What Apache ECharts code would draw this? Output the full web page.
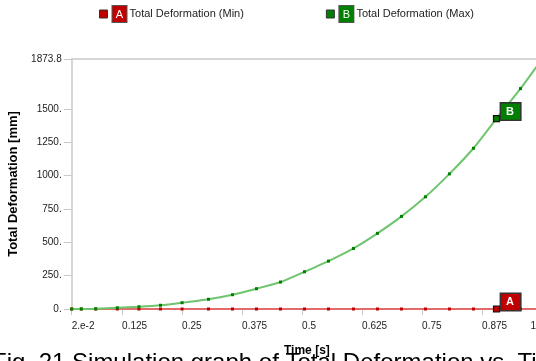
<!DOCTYPE html>
<html><head><meta charset="utf-8">
<script src="https://cdn.jsdelivr.net/npm/echarts@6/dist/echarts.min.js"></script>
<style>html,body{margin:0;padding:0;background:#fff;overflow:hidden}#c{width:536px;height:361px}</style>
</head><body><div id="c"></div>
<script>
// ---- data ----
const times   = [0.02, 0.04, 0.07, 0.115, 0.16, 0.205, 0.25, 0.305, 0.355, 0.405, 0.455, 0.505, 0.555, 0.607, 0.657, 0.707, 0.757, 0.807, 0.857, 0.905, 0.955, 1.0];
const maxVals = [0, 0.3, 1.5, 9, 17, 28, 47, 73, 107, 152, 202, 279, 359, 454, 567, 694, 841, 1013, 1205, 1427, 1652, 1873.8];
const minVals = [0, 0, 0, 0, 0, 0, 0, 0, 0, 0, 0, 0, 0, 0, 0, 0, 0, 0, 0, 0, 0, 0];
const seriesNames = ['Total Deformation (Min)', 'Total Deformation (Max)'];
const seriesTags  = ['A', 'B'];
const xTicks = [0.02, 0.125, 0.25, 0.375, 0.5, 0.625, 0.75, 0.875, 1.0];
const yTicks = [0, 250, 500, 750, 1000, 1250, 1500, 1873.8];
const probeIndex = 19;
const captionText = 'Fig. 21 Simulation graph of Total Deformation vs. Time';

const FONT = '"Liberation Sans", Arial, sans-serif';
const colors = {
  minLine: '#e36a6a', minMark: '#c00000',
  maxLine: '#6fc46f', maxMark: '#008000'
};

function buildData(vals, markColor, tag) {
  return times.map((t, i) => {
    const item = { value: [t, vals[i]] };
    if (i === probeIndex) {
      item.symbolSize = 6;
      item.itemStyle = { color: markColor, borderColor: '#111', borderWidth: 1.2 };
      item.label = {
        show: true, formatter: tag, position: 'right', distance: 1, offset: [0, -7],
        color: '#fff', fontFamily: FONT, fontSize: 11, fontWeight: 'bold',
        backgroundColor: markColor, borderColor: '#333', borderWidth: 1.5,
        padding: [3, 5, 2, 5], width: 9, align: 'left'
      };
    }
    return item;
  });
}

const chart = echarts.init(document.getElementById('c'), null, { renderer: 'canvas' });
chart.setOption({
  animation: false,
  textStyle: { fontFamily: FONT },
  grid: { left: 71.7, top: 59, width: 470.4, height: 250, outerBoundsMode: 'none', containLabel: false },
  legend: {
    left: 94, top: 0, itemGap: 82, itemWidth: 8, itemHeight: 8, icon: 'rect',
    data: [
      { name: seriesNames[0], itemStyle: { color: colors.minMark, borderColor: '#333', borderWidth: 1 } },
      { name: seriesNames[1], itemStyle: { color: colors.maxMark, borderColor: '#333', borderWidth: 1 } }
    ],
    formatter: function (name) {
      const i = seriesNames.indexOf(name);
      return (i === 0 ? '{a|' : '{b|') + seriesTags[i] + '} ' + name;
    },
    textStyle: {
      fontFamily: FONT, fontSize: 11, color: '#222',
      rich: {
        a: { backgroundColor: colors.minMark, color: '#fff', borderColor: '#555', borderWidth: 1, padding: [3, 3, 2, 3], width: 8, align: 'center', fontSize: 11 },
        b: { backgroundColor: colors.maxMark, color: '#fff', borderColor: '#555', borderWidth: 1, padding: [3, 3, 2, 3], width: 8, align: 'center', fontSize: 11 }
      }
    }
  },
  xAxis: [{
    type: 'value', min: 0.02, max: 1.0,
    name: 'Time [s]', nameLocation: 'middle', nameGap: 36,
    nameTextStyle: { fontFamily: FONT, fontSize: 12, fontWeight: 'bold', color: '#000' },
    axisLine: { show: true, lineStyle: { color: '#c8c8c8', width: 1 } },
    axisTick: { show: true, length: 6, customValues: xTicks, lineStyle: { color: '#c8c8c8' } },
    axisLabel: {
      customValues: xTicks.slice(0, -1), margin: 12, align: 'left',
      fontFamily: FONT, fontSize: 10, color: '#222',
      formatter: v => (Math.abs(v - 0.02) < 1e-9 ? '2.e-2' : String(v))
    },
    splitLine: { show: false }
  }, {
    type: 'value', min: 0.02, max: 1.0, position: 'bottom',
    axisLine: { show: false }, axisTick: { show: false }, splitLine: { show: false },
    axisLabel: {
      customValues: [xTicks[xTicks.length - 1]], margin: 12, align: 'right', padding: [0, 6, 0, 0],
      fontFamily: FONT, fontSize: 10, color: '#222', formatter: v => String(v)
    }
  }, {
    type: 'value', min: 0.02, max: 1.0, position: 'top',
    axisLine: { show: true, lineStyle: { color: '#c8c8c8', width: 1.5 } },
    axisTick: { show: false }, axisLabel: { show: false }, splitLine: { show: false }
  }],
  yAxis: {
    type: 'value', min: 0, max: 1873.8,
    name: 'Total Deformation [mm]', nameLocation: 'middle', nameGap: 38,
    nameTextStyle: { fontFamily: FONT, fontSize: 13, fontWeight: 'bold', color: '#000' },
    axisLine: { show: true, lineStyle: { color: '#c8c8c8', width: 1.5 } },
    axisTick: { show: true, length: 8, customValues: yTicks, lineStyle: { color: '#c8c8c8' } },
    axisLabel: {
      customValues: yTicks, margin: 10,
      fontFamily: FONT, fontSize: 10, color: '#222',
      formatter: v => (v === 1873.8 ? '1873.8' : v + '.')
    },
    splitLine: { show: false }
  },
  series: [{
    name: seriesNames[0], type: 'line', xAxisIndex: 0,
    data: buildData(minVals, colors.minMark, seriesTags[0]),
    symbol: 'rect', symbolSize: 3, showSymbol: true,
    lineStyle: { color: colors.minLine, width: 2 },
    itemStyle: { color: colors.minMark }, z: 2
  }, {
    name: seriesNames[1], type: 'line', xAxisIndex: 0, smooth: 0.2,
    data: buildData(maxVals, colors.maxMark, seriesTags[1]),
    symbol: 'rect', symbolSize: 3, showSymbol: true,
    lineStyle: { color: colors.maxLine, width: 2 },
    itemStyle: { color: colors.maxMark }, z: 3
  }],
  graphic: [{
    type: 'text', x: -8, y: 351,
    style: { text: captionText, fontFamily: FONT, fontSize: 24, fill: '#000', verticalAlign: 'top' }
  }]
});
</script></body></html>
